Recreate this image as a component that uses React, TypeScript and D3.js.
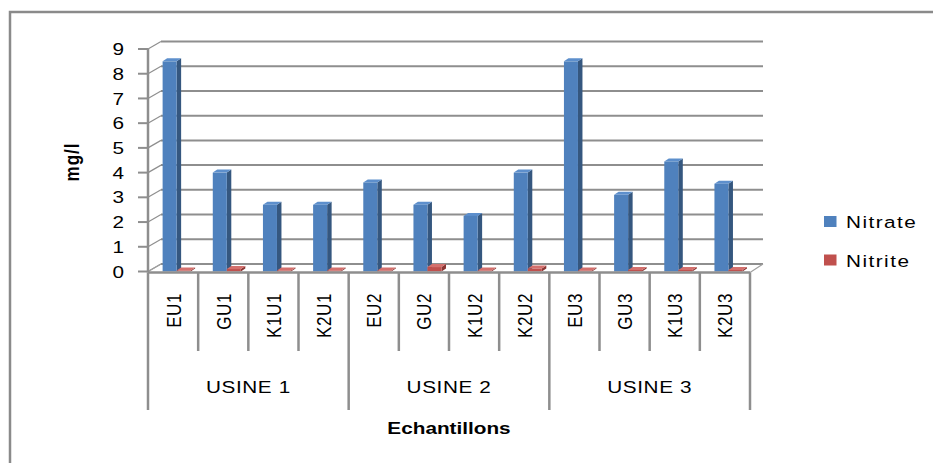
import React from "react";
import * as d3 from "d3";

const categories = ["EU1", "GU1", "K1U1", "K2U1", "EU2", "GU2", "K1U2", "K2U2", "EU3", "GU3", "K1U3", "K2U3"];
const groups = ["USINE 1", "USINE 2", "USINE 3"];
const series = ["Nitrate", "Nitrite"];
const nitrate = [8.5, 4.0, 2.7, 2.7, 3.6, 2.7, 2.25, 4.0, 8.5, 3.1, 4.45, 3.55];
const nitrite = [0.04, 0.1, 0.04, 0.04, 0.04, 0.18, 0.04, 0.12, 0.04, 0.06, 0.06, 0.06];
const yTicks = [0, 1, 2, 3, 4, 5, 6, 7, 8, 9];

const W = 933;
const H = 463;
const font = "'Liberation Sans', Arial, sans-serif";
const SX = 1.22; // the picture is a bit stretched sideways
const grid = "#8e8e8e";

// 3d offsets: back wall and bar depth
const wallDx = 13;
const wallDy = -7.5;
const barDx = 4.5;
const barDy = -3;

const colors = {
  Nitrate: { front: "#4f81bd", side: "#35577f", top: "#5d8fcc" },
  Nitrite: { front: "#c0504d", side: "#8a3533", top: "#d4706d" },
};

const T = ({ x, y, rot = 0, sx = SX, children, ...rest }: any) => (
  <text
    transform={`translate(${x},${y}) scale(${sx},1)${rot ? ` rotate(${rot})` : ""}`}
    fontFamily={font}
    fill="#000"
    {...rest}
  >
    {children}
  </text>
);

export default function App() {
  const y = d3.scaleLinear().domain([0, 9]).range([271.5, 49]);
  const x = d3.scaleBand().domain(categories).range([148, 750]);
  const inner = d3
    .scaleBand()
    .domain(series)
    .range([0, x.bandwidth()])
    .paddingOuter(0.79)
    .align(0.66);
  const values: Record<string, number[]> = { Nitrate: nitrate, Nitrite: nitrite };
  const [x0, x1] = x.range();
  const y0 = y(0);
  const perGroup = categories.length / groups.length;

  const bar = (cat: string, i: number, s: string) => {
    const bx = (x(cat) as number) + (inner(s) as number);
    const w = inner.bandwidth();
    const top = y(values[s][i]);
    const c = (colors as any)[s];
    const side = [
      [bx + w, top],
      [bx + w + barDx, top + barDy],
      [bx + w + barDx, y0 + barDy],
      [bx + w, y0],
    ];
    const lid = [
      [bx, top],
      [bx + barDx, top + barDy],
      [bx + w + barDx, top + barDy],
      [bx + w, top],
    ];
    return (
      <g key={cat + s}>
        <polygon points={side.map((p) => p.join(",")).join(" ")} fill={c.side} />
        <polygon points={lid.map((p) => p.join(",")).join(" ")} fill={c.top} />
        <rect x={bx} y={top} width={w} height={Math.max(0.8, y0 - top)} fill={c.front} />
      </g>
    );
  };

  return (
    <svg width={W} height={H} style={{ position: "absolute", left: 0, top: 0, background: "#fff" }}>
      {/* frame */}
      <path d={`M10,${H} L10,12 L${W},12`} fill="none" stroke="#8a8a8a" strokeWidth={2.5} />

      {/* back wall gridlines */}
      {yTicks.map((t) => (
        <g key={t}>
          <line x1={x0 + wallDx} x2={x1 + wallDx} y1={y(t) + wallDy} y2={y(t) + wallDy} stroke={grid} strokeWidth={2} />
          <line x1={x0} x2={x0 + wallDx} y1={y(t)} y2={y(t) + wallDy} stroke={grid} strokeWidth={1.2} />
          <line x1={x0 - 10} x2={x0} y1={y(t)} y2={y(t)} stroke={grid} strokeWidth={2} />
          <T x={124} y={y(t)} dy="0.36em" textAnchor="end" fontSize={17}>
            {t}
          </T>
        </g>
      ))}
      {/* floor */}
      <path
        d={`M${x0},${y0} L${x0 + wallDx},${y0 + wallDy} M${x1},${y0 + 1} L${x1 + wallDx},${y0 + wallDy}`}
        stroke="#a0a0a0"
        strokeWidth={1.2}
      />
      {/* value axis */}
      <line x1={x0} x2={x0} y1={y(9)} y2={y0 + 1} stroke={grid} strokeWidth={2.5} />

      {/* bars */}
      {categories.map((c, i) => series.map((s) => bar(c, i, s)))}

      {/* category axis */}
      <line x1={x0} x2={x1} y1={y0 + 1} y2={y0 + 1} stroke={grid} strokeWidth={2.5} />
      {categories.map((c, i) => (
        <line
          key={"sep" + c}
          x1={x(c) as number}
          x2={x(c) as number}
          y1={y0 + 1}
          y2={i % perGroup === 0 ? 410 : 351}
          stroke={grid}
          strokeWidth={2.5}
        />
      ))}
      <line x1={x1} x2={x1} y1={y0 + 1} y2={410} stroke={grid} strokeWidth={2.5} />
      {categories.map((c) => (
        <T
          key={"lab" + c}
          x={(x(c) as number) + x.bandwidth() / 2}
          y={293}
          rot={-90}
          dy="0.36em"
          textAnchor="end"
          fontSize={17}
          letterSpacing={0.6}
        >
          {c}
        </T>
      ))}
      {groups.map((g, gi) => {
        const a = x(categories[gi * perGroup]) as number;
        const b = (x(categories[gi * perGroup + perGroup - 1]) as number) + x.bandwidth();
        return (
          <T key={g} x={(a + b) / 2} y={393} textAnchor="middle" fontSize={17} letterSpacing={0.5}>
            {g}
          </T>
        );
      })}

      {/* axis titles */}
      <T x={(x0 + x1) / 2} y={434} textAnchor="middle" fontSize={17} fontWeight="bold">
        Echantillons
      </T>
      <T x={79} y={162} rot={-90} textAnchor="middle" fontSize={17} fontWeight="bold" letterSpacing={1}>
        mg/l
      </T>

      {/* legend */}
      {series.map((s, i) => (
        <g key={"leg" + s}>
          <rect x={824} y={216 + i * 38.5} width={12.5} height={11} fill={(colors as any)[s].front} />
          <T x={846} y={222 + i * 38.5} dy="0.36em" fontSize={17} letterSpacing={1.2}>
            {s}
          </T>
        </g>
      ))}
    </svg>
  );
}
